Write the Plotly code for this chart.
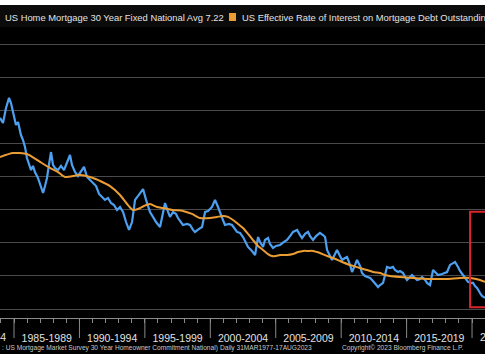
import plotly.graph_objects as go

# 30-year fixed mortgage rate (decimal year, %)
mort_years = [1983.93, 1984.16, 1984.39, 1984.62, 1984.77, 1984.92, 1985.15, 1985.31, 1985.53, 1985.69,
              1985.84, 1985.99, 1986.15, 1986.30, 1986.45, 1986.60, 1986.83, 1987.06, 1987.22, 1987.37,
              1987.52, 1987.67, 1987.83, 1987.98, 1988.13, 1988.36, 1988.59, 1988.82, 1989.05, 1989.28,
              1989.43, 1989.66, 1989.89, 1990.12, 1990.35, 1990.58, 1990.81, 1991.04, 1991.27, 1991.50,
              1991.73, 1991.95, 1992.18, 1992.41, 1992.64, 1992.87, 1993.10, 1993.33, 1993.56, 1993.79,
              1994.02, 1994.25, 1994.48, 1994.71, 1994.86, 1995.09, 1995.39, 1995.62, 1995.85, 1996.16,
              1996.39, 1996.54, 1996.77, 1996.92, 1997.15, 1997.38, 1997.53, 1997.76, 1997.91, 1998.22,
              1998.45, 1998.68, 1998.83, 1999.14, 1999.37, 1999.60, 1999.83, 2000.13, 2000.36, 2000.59,
              2000.74, 2000.97, 2001.12, 2001.43, 2001.66, 2001.89, 2002.04, 2002.27, 2002.50, 2002.73,
              2002.88, 2003.11, 2003.26, 2003.42, 2003.57, 2003.65, 2003.80, 2004.03, 2004.18, 2004.41,
              2004.56, 2004.79, 2005.02, 2005.33, 2005.63, 2005.86, 2006.09, 2006.32, 2006.47, 2006.63,
              2006.86, 2007.01, 2007.24, 2007.47, 2007.62, 2007.85, 2008.08, 2008.38, 2008.61, 2008.77,
              2008.92, 2009.15, 2009.30, 2009.53, 2009.68, 2009.91, 2010.07, 2010.29, 2010.45, 2010.68,
              2010.83, 2011.06, 2011.21, 2011.44, 2011.59, 2011.82, 2011.98, 2012.21, 2012.36, 2012.59,
              2012.82, 2012.97, 2013.20, 2013.35, 2013.50, 2013.73, 2013.96, 2014.11, 2014.35, 2014.50,
              2014.73, 2014.88, 2015.03, 2015.26, 2015.41, 2015.64, 2015.80, 2016.03, 2016.18, 2016.41,
              2016.56, 2016.79, 2016.94, 2017.02, 2017.25, 2017.40, 2017.71, 2018.09, 2018.32, 2018.55,
              2018.70, 2018.93, 2019.08, 2019.31, 2019.54, 2019.69, 2019.92, 2020.08, 2020.23, 2020.38,
              2020.61, 2020.76, 2020.99]
mort_rate = [13.58, 13.27, 14.18, 14.79, 14.48, 13.94, 13.15, 13.33, 12.54, 12.24,
             11.82, 11.15, 10.73, 10.42, 10.67, 10.30, 9.94, 9.33, 9.03, 9.45,
             9.94, 10.73, 11.51, 10.73, 10.55, 10.42, 10.67, 10.42, 10.85, 11.33,
             10.73, 10.30, 10.06, 10.30, 10.61, 10.00, 9.82, 9.64, 9.45, 8.97,
             8.79, 8.61, 8.73, 8.42, 8.30, 8.00, 8.18, 7.88, 7.27, 6.79,
             7.27, 8.61, 8.85, 9.09, 9.27, 8.61, 7.88, 7.58, 7.27, 6.97,
             8.00, 8.42, 7.88, 7.58, 7.88, 7.76, 7.51, 7.27, 7.09, 7.15,
             7.09, 6.79, 6.67, 6.85, 6.97, 7.88, 7.94, 8.18, 8.61, 8.18,
             7.82, 7.39, 7.09, 7.15, 7.09, 6.79, 6.67, 6.61, 6.36, 6.00,
             5.76, 5.58, 5.39, 5.27, 6.00, 6.36, 6.06, 5.76, 6.18, 6.30,
             5.94, 5.70, 5.82, 5.88, 6.06, 6.18, 6.42, 6.67, 6.73, 6.79,
             6.48, 6.30, 6.55, 6.67, 6.42, 6.18, 6.42, 6.61, 6.48, 6.36,
             5.58, 5.21, 4.97, 5.33, 5.58, 5.21, 4.97, 5.09, 5.15, 4.67,
             4.24, 4.67, 4.97, 4.61, 4.18, 4.00, 3.94, 3.88, 3.76, 3.52,
             3.33, 3.45, 3.58, 4.06, 4.55, 4.48, 4.55, 4.36, 4.24, 4.30,
             4.18, 3.94, 3.76, 3.94, 4.06, 3.88, 3.76, 3.82, 3.94, 3.76,
             3.58, 3.45, 4.00, 4.36, 4.18, 4.06, 4.12, 4.24, 4.67, 4.79,
             4.85, 4.55, 4.30, 4.06, 3.82, 3.64, 3.58, 3.58, 3.39, 3.27,
             2.97, 2.79, 2.67]

# Effective rate of interest on mortgage debt outstanding (decimal year, %)
eff_years = [1983.93, 1984.92, 1985.99, 1986.99, 1987.75, 1988.36, 1988.90, 1990.04, 1991.04, 1991.57,
             1992.34, 1993.10, 1993.64, 1994.09, 1994.48, 1994.93, 1995.39, 1995.93, 1996.39, 1997.15,
             1997.91, 1998.60, 1999.21, 1999.98, 2000.51, 2000.97, 2001.35, 2001.74, 2002.12, 2002.50,
             2002.88, 2003.26, 2003.65, 2004.03, 2004.41, 2004.72, 2005.02, 2005.33, 2005.86, 2006.32,
             2006.70, 2007.09, 2007.47, 2007.85, 2008.15, 2008.38, 2008.92, 2009.38, 2009.91, 2010.45,
             2010.91, 2011.44, 2011.98, 2012.44, 2012.97, 2013.35, 2013.73, 2014.50, 2015.49, 2016.79,
             2018.09, 2019.08, 2019.85, 2020.61, 2020.99]
eff_rate = [11.21, 11.45, 11.39, 10.91, 10.55, 10.30, 10.00, 10.12, 9.94, 9.76,
            9.45, 8.91, 8.36, 8.00, 8.06, 8.24, 8.36, 8.18, 8.12, 8.00,
            7.94, 7.76, 7.51, 7.51, 7.58, 7.64, 7.58, 7.39, 7.15, 6.91,
            6.55, 6.18, 5.82, 5.58, 5.33, 5.21, 5.21, 5.27, 5.27, 5.33,
            5.45, 5.52, 5.52, 5.52, 5.45, 5.39, 5.21, 5.09, 4.91, 4.73,
            4.61, 4.48, 4.36, 4.24, 4.18, 4.06, 4.00, 3.94, 3.88, 3.82,
            3.82, 3.88, 3.88, 3.76, 3.64]

period_starts = [1985, 1990, 1995, 2000, 2005, 2010, 2015, 2020]
period_labels = ["1985-1989", "1990-1994", "1995-1999", "2000-2004", "2005-2009", "2010-2014", "2015-2019"]
label_pos = [1987.5, 1992.5, 1997.5, 2002.5, 2007.5, 2012.5, 2017.5]
edge_labels = ["1980-1984", "2020-2024"]
minor_years = list(range(1984, 2021))

legend_blue = "US Home Mortgage 30 Year Fixed National Avg 7.22"
legend_orange = "US Effective Rate of Interest on Mortgage Debt Outstanding"
source_txt = ": US Mortgage Market Survey 30 Year Homeowner Commitment National)"
daily_txt = "Daily 31MAR1977-17AUG2023"
copy_txt = "Copyright\u00a9 2023 Bloomberg Finance L.P."

X_RANGE = [1983.93, 2020.99]
Y_RANGE = [1.4545, 20.42]
BLUE = "#4d9ff0"
ORANGE = "#eb9d35"
GRID = "#4a4a4a"
AXIS = "#8a8a8a"
FONT = "Liberation Sans, Arial, sans-serif"
TXT = "#e2e2e2"

fig = go.Figure()
fig.add_trace(go.Scatter(x=mort_years, y=mort_rate, mode="lines",
                         line=dict(color=BLUE, width=2.2), showlegend=False))
fig.add_trace(go.Scatter(x=eff_years, y=eff_rate, mode="lines",
                         line=dict(color=ORANGE, width=2, shape="spline", smoothing=0.6),
                         showlegend=False))

PH = 313.0  # plot height in px
def py(p):
    return (318.0 - p) / PH

def px_year(yr):
    # paper x of an (out-of-range) year position
    return (yr - X_RANGE[0]) / (X_RANGE[1] - X_RANGE[0])

shapes = []
for s in period_starts:
    shapes.append(dict(type="line", xref="x", yref="paper", x0=s, x1=s, y0=0, y1=py(338),
                       line=dict(color=AXIS, width=1)))
shapes.append(dict(type="rect", xref="x", yref="y", x0=2019.85, x1=2023.0, y0=2.1, y1=7.9,
                   line=dict(color="#d8262c", width=2), fillcolor="rgba(0,0,0,0)"))
shapes.append(dict(type="rect", xref="paper", yref="paper", x0=-0.01, x1=1.01, y0=py(27), y1=py(5),
                   line=dict(width=0), fillcolor="#0b0b0b", layer="above"))
shapes.append(dict(type="rect", xref="paper", yref="paper", x0=-0.01, x1=1.01, y0=py(5), y1=py(-5),
                   line=dict(width=0), fillcolor="white", layer="above"))
shapes.append(dict(type="rect", xref="paper", yref="paper", x0=-0.01, x1=1.01, y0=py(366), y1=py(354),
                   line=dict(width=0), fillcolor="white", layer="above"))
shapes.append(dict(type="rect", xref="paper", yref="paper", x0=229/485, x1=236/485, y0=py(21), y1=py(13),
                   line=dict(width=0), fillcolor=ORANGE, layer="above"))

annotations = [
    dict(text=legend_blue, xref="paper", yref="paper", x=3/485, y=py(17), xanchor="left", yanchor="middle",
         showarrow=False, font=dict(family=FONT, size=9.4, color=TXT)),
    dict(text=legend_orange, xref="paper", yref="paper", x=240/485, y=py(17), xanchor="left", yanchor="middle",
         showarrow=False, font=dict(family=FONT, size=9.4, color=TXT)),
    dict(text=edge_labels[0], xref="paper", yref="paper", x=px_year(1982.5), y=py(337), xanchor="center",
         yanchor="middle", showarrow=False, font=dict(family=FONT, size=10.5, color=TXT)),
    dict(text=edge_labels[1], xref="paper", yref="paper", x=px_year(2022.5), y=py(337), xanchor="center",
         yanchor="middle", showarrow=False, font=dict(family=FONT, size=10.5, color=TXT)),
    dict(text=source_txt, xref="paper", yref="paper", x=0, y=py(348), xanchor="left", yanchor="middle",
         showarrow=False, font=dict(family=FONT, size=6.6, color="#c8c8c8")),
    dict(text=daily_txt, xref="paper", yref="paper", x=218/485, y=py(348), xanchor="left", yanchor="middle",
         showarrow=False, font=dict(family=FONT, size=6.6, color="#c8c8c8")),
    dict(text=copy_txt, xref="paper", yref="paper", x=340/485, y=py(348), xanchor="left", yanchor="middle",
         showarrow=False, font=dict(family=FONT, size=6.6, color="#c8c8c8")),
]

fig.update_layout(
    width=485, height=360,
    margin=dict(l=0, r=0, t=5, b=42),
    paper_bgcolor="black", plot_bgcolor="black",
    showlegend=False,
    shapes=shapes, annotations=annotations,
    xaxis=dict(range=X_RANGE, showgrid=False, zeroline=False,
               tickmode="array", tickvals=label_pos, ticktext=period_labels,
               ticks="outside", ticklen=10, tickcolor="rgba(0,0,0,0)",
               tickfont=dict(family=FONT, size=10.5, color=TXT),
               showline=True, linecolor=AXIS, linewidth=1,
               minor=dict(tickmode="array", tickvals=minor_years, ticks="outside", ticklen=4,
                          tickcolor=AXIS, showgrid=False)),
    yaxis=dict(range=Y_RANGE, showgrid=True, gridcolor=GRID, gridwidth=1,
               tick0=0, dtick=2, showticklabels=False, zeroline=False, ticks=""),
)

fig.write_html("out.html", config={"displayModeBar": False},
               post_script="document.body.style.margin='0';")
